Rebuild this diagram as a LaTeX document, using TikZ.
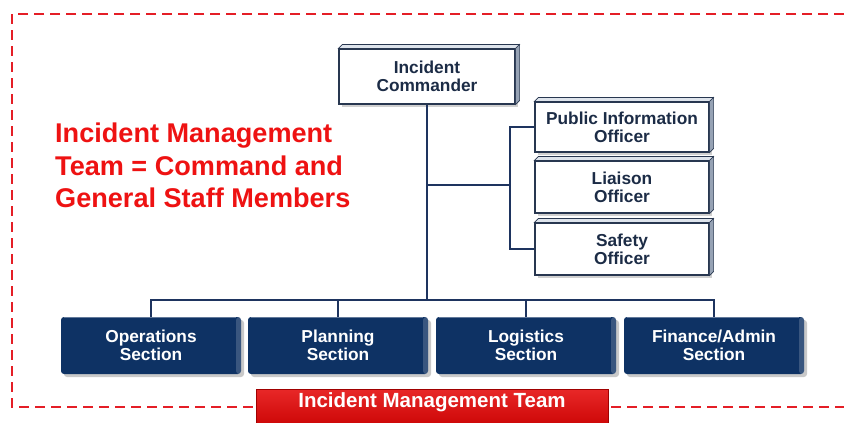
\documentclass[tikz,border=0pt]{standalone}
\usepackage{fontspec}
\setmainfont{Liberation Sans}
\usetikzlibrary{shadows}
\definecolor{navy}{RGB}{14,50,100}
\definecolor{linecol}{RGB}{30,52,95}
\definecolor{boxtext}{RGB}{28,44,70}
\definecolor{boxline}{RGB}{40,55,80}
\definecolor{bevtop}{RGB}{222,228,236}
\definecolor{bevside}{RGB}{150,162,180}
\definecolor{dashred}{RGB}{228,30,38}
\definecolor{txtred}{RGB}{238,18,18}
\definecolor{lblred}{RGB}{200,0,0}
\definecolor{lbltop}{RGB}{232,40,40}
\newcommand\bxfont{\fontsize{17.3}{18}\selectfont\bfseries}
\newcommand\redfont{\fontsize{27.1}{32}\selectfont\bfseries}
\begin{document}
\begin{tikzpicture}[x=1pt,y=-1pt,
  wbox/.style={draw=boxline, line width=1.1pt, fill=white, align=center,
    font=\bxfont, text=boxtext, inner sep=0pt, minimum width=174pt,
    drop shadow={shadow xshift=3pt, shadow yshift=-3pt, fill=black!30, opacity=.6}},
  sbox/.style={fill=navy, rounded corners=3pt, align=center, font=\bxfont,
    text=white, inner sep=0pt, minimum width=180pt, minimum height=57pt,
    drop shadow={shadow xshift=3pt, shadow yshift=-3pt, fill=black!35, opacity=.6}},
  conn/.style={draw=linecol, line width=1.8pt},
  redtxt/.style={font=\redfont, text=txtred, anchor=base west, inner sep=0pt}]
\useasboundingbox (0,0) rectangle (844,423);
\fill[white] (0,0) rectangle (844,423);

% dashed frame
\draw[dashred, line width=1.8pt, dash pattern=on 10pt off 6pt] (844,14) -| (12,407) -- (844,407);

% command staff boxes
\node[wbox, minimum width=176pt, minimum height=55pt] (ic) at (427,76.5) {Incident\\Commander};
\node[wbox, minimum height=50pt] (pio) at (622,127) {Public Information\\Officer};
\node[wbox, minimum height=52pt] (lia) at (622,187) {Liaison\\Officer};
\node[wbox, minimum height=52pt] (saf) at (622,249) {Safety\\Officer};
\foreach \n in {ic,pio,lia,saf}{
  \filldraw[fill=bevtop, draw=boxline, line width=0.6pt] (\n.north west) -- ++(4,-4) -- ([shift={(4,-4)}]\n.north east) -- (\n.north east) -- cycle;
  \filldraw[fill=bevside, draw=boxline, line width=0.6pt] (\n.north east) -- ++(4,-4) -- ([shift={(4,-4)}]\n.south east) -- (\n.south east) -- cycle;
}

% general staff sections
\node[sbox] (ops) at (151,345.5) {Operations\\Section};
\node[sbox] (plan) at (338,345.5) {Planning\\Section};
\node[sbox] (log) at (526,345.5) {Logistics\\Section};
\node[sbox] (fin) at (714,345.5) {Finance/Admin\\Section};
\foreach \n in {ops,plan,log,fin}{
  \fill[white, opacity=.18, rounded corners=3pt] ([xshift=-5pt]\n.north east) -- (\n.north east) -- (\n.south east) -- ([xshift=-5pt]\n.south east) -- cycle;
  \draw[white, opacity=.35, line width=1pt] ([xshift=3pt, yshift=-1pt]\n.north west) -- ([xshift=-5pt, yshift=-1pt]\n.north east);
}

% connectors
\coordinate (bus) at (427,300);
\coordinate (ov) at (510,185);
\draw[conn] (ic.south) -- (ic.south |- bus);
\draw[conn] (ic.south |- ov) -- (ov);
\draw[conn] (pio.west) -| (ov) |- (saf.west);
\draw[conn] (ops.north) |- (bus);
\draw[conn] (fin.north) |- (bus);
\draw[conn] (plan.north) -- (plan.north |- bus);
\draw[conn] (log.north) -- (log.north |- bus);

% red statement
\node[redtxt] (t1) at (55,142) {Incident Management};
\node[redtxt] (t2) at (55,175) {Team = Command and};
\node[redtxt] (t3) at (55,207) {General Staff Members};

% bottom label
\node[top color=lbltop, bottom color=lblred, draw=lblred!80!black, line width=0.6pt,
  minimum width=352pt, text height=16.5pt, text depth=22pt, inner ysep=2pt,
  anchor=base, font=\fontsize{20.5}{22}\selectfont\bfseries, text=white] (imt) at (432,407.5) {Incident Management Team};
\end{tikzpicture}
\end{document}
